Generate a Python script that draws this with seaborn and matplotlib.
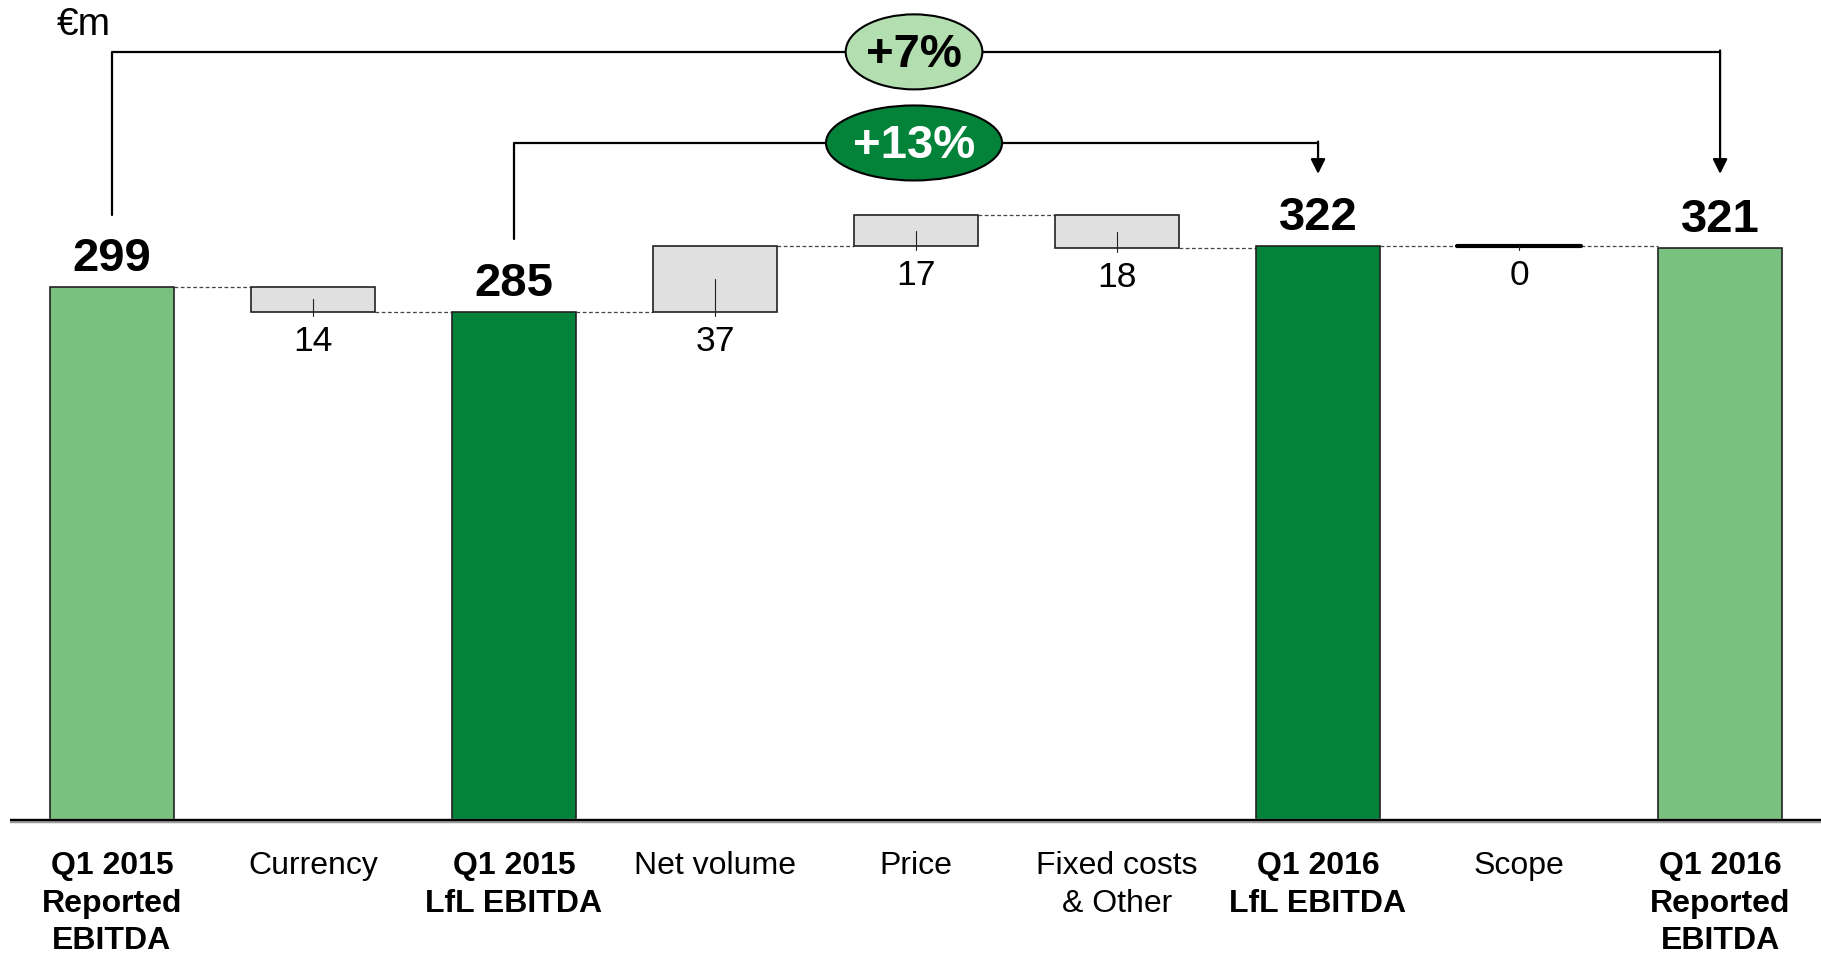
import matplotlib.pyplot as plt
import seaborn as sns
import pandas as pd
from matplotlib.patches import Ellipse

sns.set_theme(style="white")
plt.rcParams['font.family'] = ['Liberation Sans', 'DejaVu Sans']
plt.rcParams['text.color'] = 'black'

# data
categories = ['Q1 2015\nReported\nEBITDA', 'Currency', 'Q1 2015\nLfL EBITDA', 'Net volume',
              'Price', 'Fixed costs\n& Other', 'Q1 2016\nLfL EBITDA', 'Scope',
              'Q1 2016\nReported\nEBITDA']
totals = [299, None, 285, None, None, None, 322, None, 321]
deltas = [None, -14, None, 37, 17, -18, None, 0, None]
growth_labels = ['+7%', '+13%']

LIGHT = '#78c17f'
DARK = '#038239'
GREY = '#e0e0e0'
bar_colors = [LIGHT, GREY, DARK, GREY, GREY, GREY, DARK, GREY, LIGHT]

W = 0.62
fig = plt.figure(figsize=(18.21, 9.54), dpi=100)
ax = fig.add_axes([0, 0, 1, 1])

df = pd.DataFrame({'cat': categories, 'val': totals})
df_tot = df.dropna()
sns.barplot(data=df_tot, x='cat', y='val', hue='cat', order=categories,
            palette={c: col for c, col in zip(categories, bar_colors)},
            width=W, edgecolor='#222222', linewidth=1.2, legend=False,
            saturation=1, dodge=False, ax=ax, zorder=2)

# floating boxes + running level
level = 0
ends = []
for i, (t, d) in enumerate(zip(totals, deltas)):
    if t is not None:
        level = t
        ax.annotate(str(t), (i, t), xytext=(0, 5), textcoords='offset points',
                    ha='center', va='bottom', fontsize=34, fontweight='bold')
    else:
        lo, hi = min(level, level + d), max(level, level + d)
        if d == 0:
            ax.plot([i - W / 2, i + W / 2], [level, level], color='black', lw=3, zorder=3)
        else:
            ax.bar(i, hi - lo, bottom=lo, width=W, color=GREY,
                   edgecolor='#222222', linewidth=1.2, zorder=2)
        mid = (lo + hi) / 2
        ax.plot([i, i], [mid, lo - 2.2], color='#222222', lw=0.8, zorder=3)
        ax.annotate(str(abs(d)), (i, lo), xytext=(0, -9), textcoords='offset points',
                    ha='center', va='top', fontsize=25.5)
        level = level + d
    ends.append(level)

# dashed connectors
for i in range(len(categories) - 1):
    ax.plot([i + W / 2, i + 1 - W / 2], [ends[i], ends[i]], color='#444444',
            lw=0.9, ls=(0, (3, 2)), zorder=1)

# category labels
for i, c in enumerate(categories):
    bold = c.startswith('Q1')
    ax.text(i, -16.5, c, ha='center', va='top', fontsize=23, linespacing=1.32,
            fontweight='bold' if bold else 'normal')

# baseline
ax.plot([-0.507, 8.51], [0, 0], color='#999999', lw=3.2, zorder=3, solid_capstyle='butt')
ax.plot([-0.507, 8.51], [0.4, 0.4], color='black', lw=1.6, zorder=4, solid_capstyle='butt')

# growth brackets
def bracket(x0, x1, y, y0, tip, label, fc, tc, ew):
    ax.plot([x0, x0, x1], [y0, y, y], color='black', lw=1.6, zorder=4)
    ax.annotate('', xy=(x1, tip), xytext=(x1, y + 0.8),
                arrowprops=dict(arrowstyle='-|>', color='black', lw=1.6,
                                mutation_scale=22, shrinkA=0, shrinkB=0), zorder=4)
    ax.add_patch(Ellipse((3.99, y), ew, 42, facecolor=fc, edgecolor='black',
                         lw=1.5, zorder=5))
    ax.text(3.99, y - 1, label, ha='center', va='center', fontsize=34,
            fontweight='bold', color=tc, zorder=6)

bracket(0, 8, 430.6, 339.3, 362.3, growth_labels[0], '#b3deb0', 'black', 0.68)
bracket(2, 6, 379.6, 325.9, 362.3, growth_labels[1], DARK, 'white', 0.876)

ax.text(-0.14, 446, '€m', ha='center', va='center', fontsize=28)

ax.set_xlim(-0.557, 8.502)
ax.set_ylim(-73.9, 460.2)
ax.axis('off')

fig.savefig('out.png', dpi=100)
plt.close()
